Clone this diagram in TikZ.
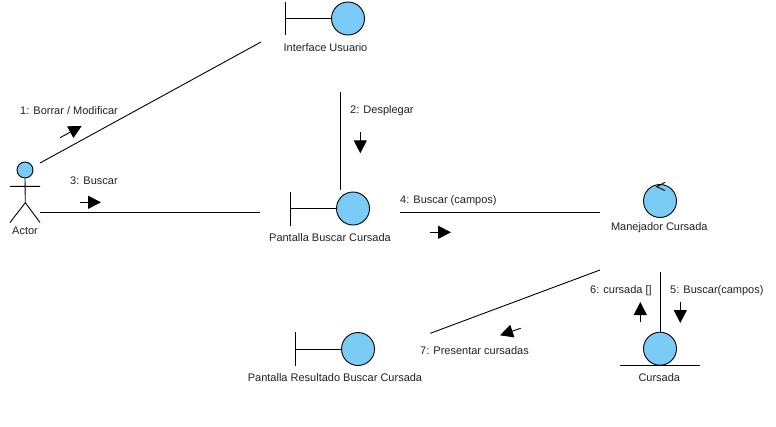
\documentclass[tikz,border=0pt]{standalone}
\usepackage{fontspec}
\setmainfont{Liberation Sans}
\usetikzlibrary{arrows.meta}
\definecolor{lifeblue}{HTML}{7ACBF5}
\definecolor{inktext}{HTML}{222222}
\tikzset{
  x=1pt,y=-1pt,
  lifeline/.style={circle,draw=black,fill=lifeblue,line width=0.9pt,minimum size=33pt,inner sep=0pt},
  actorhead/.style={circle,draw=black,fill=lifeblue,line width=0.9pt,minimum size=16pt,inner sep=0pt},
  umlline/.style={draw=black,line width=0.9pt},
  msgarrow/.style={draw=black,line width=0.9pt,-{Triangle[length=13pt,width=13pt,fill=black]}},
  lbl/.style={font=\fontsize{11}{13}\selectfont,text=inktext,inner sep=0pt,anchor=center},
  msg/.style={lbl,anchor=west},
}
\begin{document}
\begin{tikzpicture}
\useasboundingbox (0,0) rectangle (776,426);
\fill[white] (0,0) rectangle (776,426);

% objects
\node[lifeline] (iface) at (348,18.5) {};
\node[lifeline] (buscar) at (353,208.5) {};
\node[lifeline] (resultado) at (358,349) {};
\node[lifeline] (manejador) at (660,201) {};
\node[lifeline] (cursada) at (660,348.7) {};
\node[actorhead] (actor) at (25,170) {};

% boundary bars
\coordinate (ifaceA) at (285.3,2); \coordinate (ifaceB) at (285.3,35); \coordinate (ifaceM) at (285.3,18.5);
\coordinate (buscarA) at (290.3,192); \coordinate (buscarB) at (290.3,225.5); \coordinate (buscarM) at (290.3,208.5);
\coordinate (resA) at (295.3,332); \coordinate (resB) at (295.3,365.5); \coordinate (resM) at (295.3,349);
\draw[umlline] (ifaceA) -- (ifaceB) (ifaceM) -- (iface.west);
\draw[umlline] (buscarA) -- (buscarB) (buscarM) -- (buscar.west);
\draw[umlline] (resA) -- (resB) (resM) -- (resultado.west);

% control arrowhead
\coordinate (ctlA) at (665,182.3); \coordinate (ctlB) at (656.7,186.7); \coordinate (ctlC) at (665,190.5);
\draw[umlline] (ctlA) -- (ctlB) -- (ctlC);

% entity underline
\coordinate (entA) at (620,365.4); \coordinate (entB) at (700,365.4);
\draw[umlline] (entA) -- (entB);

% actor figure
\coordinate (hip) at (25.3,202.7); \coordinate (armL) at (10,186.4); \coordinate (armR) at (40,186.4);
\coordinate (legL) at (10,222.5); \coordinate (legR) at (40,222.5);
\draw[umlline] (actor.south) -- (hip) (armL) -- (armR) (legL) -- (hip) -- (legR);

% labels
\node[lbl] (lIface) at (325.5,47.5) {Interface Usuario};
\node[lbl] (lBuscar) at (330,237.5) {Pantalla Buscar Cursada};
\node[lbl] (lRes) at (335,377.5) {Pantalla Resultado Buscar Cursada};
\node[lbl] (lMan) at (659.3,227.5) {Manejador Cursada};
\node[lbl] (lCur) at (659.3,377.5) {Cursada};
\node[lbl] (lActor) at (25,230.5) {Actor};

% connectors
\coordinate (c1a) at (40,163); \coordinate (c1b) at (261,42);
\coordinate (c3a) at (40,212.3); \coordinate (c3b) at (260,212.3);
\coordinate (c2a) at (340.3,92); \coordinate (c2b) at (340.3,190);
\coordinate (c4a) at (400,212.3); \coordinate (c4b) at (600,212.3);
\coordinate (c5a) at (660.3,272); \coordinate (c5b) at (660.3,332);
\coordinate (c7a) at (600,270); \coordinate (c7b) at (430.3,333.3);
\draw[umlline] (c1a) -- (c1b);
\draw[umlline] (c3a) -- (c3b);
\draw[umlline] (c2a) -- (c2b);
\draw[umlline] (c4a) -- (c4b);
\draw[umlline] (c5a) -- (c5b);
\draw[umlline] (c7a) -- (c7b);

% message arrows
\coordinate (m1a) at (60,137.7); \coordinate (m1b) at (81.7,126);
\coordinate (m2a) at (360.3,132.3); \coordinate (m2b) at (360.3,153.3);
\coordinate (m3a) at (80,202.3); \coordinate (m3b) at (101,202.3);
\coordinate (m4a) at (430,232.3); \coordinate (m4b) at (451,232.3);
\coordinate (m5a) at (680.3,302); \coordinate (m5b) at (680.3,323);
\coordinate (m6a) at (640.3,322.3); \coordinate (m6b) at (640.3,302);
\coordinate (m7a) at (520.7,328.3); \coordinate (m7b) at (500,335.3);
\draw[msgarrow] (m1a) -- (m1b);
\draw[msgarrow] (m2a) -- (m2b);
\draw[msgarrow] (m3a) -- (m3b);
\draw[msgarrow] (m4a) -- (m4b);
\draw[msgarrow] (m5a) -- (m5b);
\draw[msgarrow] (m6a) -- (m6b);
\draw[msgarrow] (m7a) -- (m7b);

% message labels
\node[msg] (t1) at (20,110.5) {1: Borrar / Modificar};
\node[msg] (t2) at (350,110.5) {2: Desplegar};
\node[msg] (t3) at (70,180.5) {3: Buscar};
\node[msg] (t4) at (400,200.5) {4: Buscar (campos)};
\node[msg] (t5) at (670,290.5) {5: Buscar(campos)};
\node[msg] (t6) at (590,290.5) {6: cursada []};
\node[msg] (t7) at (420,350.5) {7: Presentar cursadas};
\end{tikzpicture}
\end{document}
